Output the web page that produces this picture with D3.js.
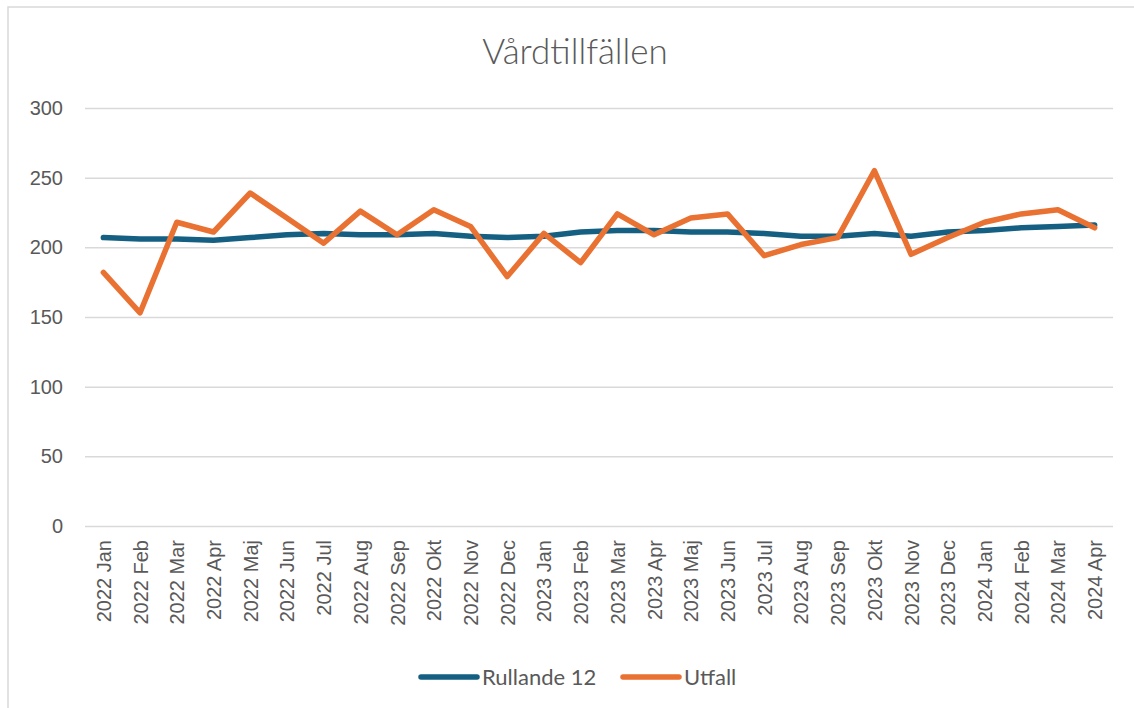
<!DOCTYPE html>
<html>
<head>
<meta charset="utf-8">
<script src="https://cdn.jsdelivr.net/npm/d3@7"></script>
<style>
  body { margin: 0; background: #fff; }
  svg { display: block; }
</style>
</head>
<body>
<svg class="chart" width="1134" height="708"></svg>
<script>
const months = [
  "2022 Jan", "2022 Feb", "2022 Mar", "2022 Apr", "2022 Maj", "2022 Jun", "2022 Jul",
  "2022 Aug", "2022 Sep", "2022 Okt", "2022 Nov", "2022 Dec",
  "2023 Jan", "2023 Feb", "2023 Mar", "2023 Apr", "2023 Maj", "2023 Jun", "2023 Jul",
  "2023 Aug", "2023 Sep", "2023 Okt", "2023 Nov", "2023 Dec",
  "2024 Jan", "2024 Feb", "2024 Mar", "2024 Apr"
];

const rullande12 = [
  207, 206, 206, 205, 207, 209, 210, 209, 209, 210, 208, 207,
  208, 211, 212, 212, 211, 211, 210, 208, 208, 210, 208, 211,
  212, 214, 215, 216
];

const utfall = [
  182, 153, 218, 211, 239, 221, 203, 226, 209, 227, 215, 179,
  210, 189, 224, 209, 221, 224, 194, 202, 207, 255, 195, 207,
  218, 224, 227, 214
];

const yTicks = [0, 50, 100, 150, 200, 250, 300];

const seriesList = [
  { name: "Rullande 12", values: rullande12, color: "#156082" },
  { name: "Utfall", values: utfall, color: "#E97132" }
];

const svg = d3.select(".chart");
const width = +svg.attr("width");
const height = +svg.attr("height");

// outer frame (only top and left edges show in the picture)
svg.append("rect")
  .attr("x", 8).attr("y", 7)
  .attr("width", width).attr("height", height)
  .attr("fill", "none")
  .attr("stroke", "#d9d9d9")
  .attr("stroke-width", 1.5);

const x = d3.scalePoint().domain(months).range([85, 1113]).padding(0.5);
const y = d3.scaleLinear().domain([0, 300]).range([526, 108]);

svg.append("text")
  .attr("x", 575).attr("y", 64)
  .attr("text-anchor", "middle")
  .style("font-family", "Lato, sans-serif")
  .style("font-weight", 300)
  .style("font-size", "35px")
  .style("fill", "#595959")
  .text("Vårdtillfällen");

// gridlines + y labels
const yAxis = svg.append("g")
  .attr("transform", "translate(85,0)")
  .call(d3.axisLeft(y).tickValues(yTicks).tickSize(-(1113 - 85)).tickPadding(22));
yAxis.select(".domain").remove();
yAxis.selectAll(".tick line").attr("stroke", "#d9d9d9").attr("stroke-width", 1.5);
yAxis.selectAll(".tick text")
  .style("font-family", "'Liberation Sans', Arial, sans-serif")
  .style("font-size", "20px")
  .style("fill", "#595959");

// x labels
const xAxis = svg.append("g")
  .attr("transform", "translate(0,526)")
  .call(d3.axisBottom(x).tickSize(0));
xAxis.select(".domain").remove();
xAxis.selectAll(".tick text")
  .attr("transform", "rotate(-90)")
  .attr("text-anchor", "end")
  .attr("x", -14)
  .attr("y", 0)
  .attr("dy", "0.35em")
  .style("font-family", "'Liberation Sans', Arial, sans-serif")
  .style("font-size", "20px")
  .style("fill", "#595959");

const line = d3.line()
  .x((d, i) => x(months[i]))
  .y((d) => y(d));

svg.append("g")
  .selectAll("path")
  .data(seriesList)
  .enter()
  .append("path")
  .attr("d", (d) => line(d.values))
  .attr("fill", "none")
  .attr("stroke", (d) => d.color)
  .attr("stroke-width", 5.5)
  .attr("stroke-linejoin", "round")
  .attr("stroke-linecap", "round");

// legend
const legendPos = [421, 623];
const legend = svg.append("g")
  .selectAll("g")
  .data(seriesList)
  .enter()
  .append("g")
  .attr("transform", (d, i) => `translate(${legendPos[i]},677)`);

legend.append("line")
  .attr("x1", 0).attr("x2", 56)
  .attr("stroke", (d) => d.color)
  .attr("stroke-width", 5.5)
  .attr("stroke-linecap", "round");

legend.append("text")
  .attr("x", 61)
  .attr("dy", "0.35em")
  .style("font-family", "Lato, sans-serif")
  .style("font-size", "22px")
  .style("fill", "#595959")
  .text((d) => d.name);
</script>
</body>
</html>
